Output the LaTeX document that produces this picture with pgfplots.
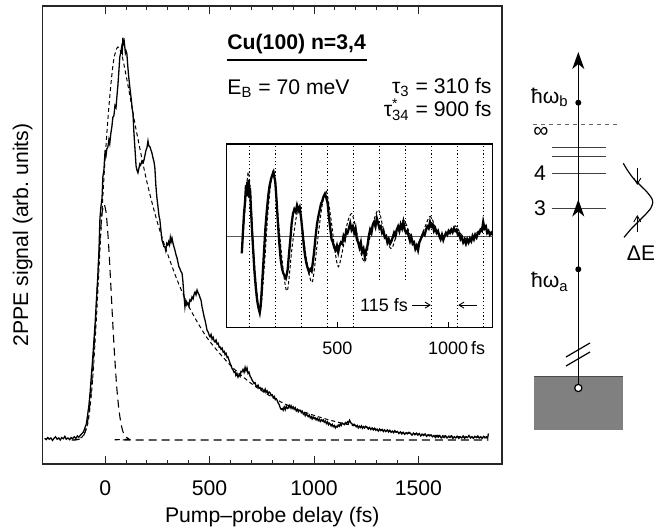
\documentclass[border=0pt]{standalone}
\usepackage{fontspec}
\setmainfont{Liberation Sans}
\usepackage{pgfplots}
\usepackage{pgfplotstable}
\pgfplotsset{compat=1.18}
\usetikzlibrary{arrows.meta}
\tikzset{dotl/.style={black, line width=0.4pt, dash pattern=on 0.6pt off 1.2pt}}
\newcommand\sub[1]{\textsubscript{#1}}
\newcommand\tf{\fontsize{10.6}{12}\selectfont}
\newcommand\insetfont{\fontsize{9}{10}\selectfont}

\pgfplotstableread{
t v
-290 0.004
-282 0.001
-275 0.006
-268 0.002
-260 0.005
-252 -0.001
-245 0.004
-238 0.008
-230 0.002
-222 0.005
-215 0.000
-208 0.006
-200 0.003
-193 0.009
-186 0.002
-178 0.005
-170 0.001
-163 0.006
-156 0.003
-148 0.008
-140 0.004
-133 0.010
-126 0.007
-118 0.012
-111 0.016
-104 0.020
-97 0.030
-90 0.040
-84 0.062
-78 0.085
-72 0.118
-66 0.160
-60 0.200
-54 0.245
-48 0.290
-42 0.345
-36 0.400
-30 0.465
-25 0.550
-20 0.580
-15 0.600
-11 0.653
-6 0.670
-1 0.712
4 0.705
8 0.722
13 0.727
18 0.745
22 0.735
27 0.760
32 0.777
37 0.801
42 0.805
47 0.830
52 0.825
56 0.851
61 0.880
65 0.910
70 0.950
75 0.962
79 0.975
82 0.965
85 0.998
88 0.985
91 0.990
94 0.975
97 0.960
100 0.965
104 0.958
108 0.930
112 0.905
118 0.876
125 0.845
130 0.820
133 0.811
138 0.760
143 0.720
148 0.680
152 0.670
157 0.663
162 0.675
166 0.685
170 0.682
176 0.692
182 0.688
186 0.695
190 0.705
195 0.718
200 0.725
205 0.742
209 0.730
214 0.728
219 0.720
224 0.712
229 0.700
234 0.690
238 0.675
243 0.630
248 0.600
253 0.578
258 0.555
262 0.546
267 0.520
272 0.496
277 0.488
281 0.480
286 0.479
290 0.470
295 0.488
300 0.484
304 0.492
308 0.485
312 0.503
316 0.492
320 0.501
325 0.488
330 0.478
334 0.471
339 0.460
344 0.452
348 0.442
353 0.430
358 0.425
363 0.418
368 0.414
372 0.395
377 0.360
382 0.330
386 0.345
391 0.335
396 0.340
401 0.332
406 0.348
411 0.345
416 0.355
421 0.350
426 0.362
430 0.367
435 0.360
440 0.372
445 0.365
450 0.360
455 0.352
459 0.347
464 0.330
469 0.318
474 0.305
478 0.298
483 0.285
488 0.272
493 0.268
498 0.260
502 0.256
507 0.262
512 0.250
517 0.255
522 0.245
526 0.243
531 0.248
536 0.238
541 0.240
546 0.230
550 0.231
555 0.225
560 0.228
565 0.218
570 0.220
574 0.212
579 0.215
584 0.205
588 0.206
593 0.198
598 0.190
603 0.185
607 0.178
612 0.174
617 0.168
622 0.170
626 0.160
631 0.165
636 0.156
641 0.162
646 0.158
650 0.170
655 0.169
660 0.175
665 0.168
670 0.180
674 0.172
679 0.179
684 0.165
689 0.168
694 0.158
698 0.155
703 0.149
708 0.145
713 0.140
718 0.142
722 0.135
727 0.132
732 0.136
737 0.128
742 0.130
746 0.125
751 0.128
756 0.124
761 0.120
766 0.126
770 0.118
775 0.122
780 0.115
785 0.119
790 0.117
795 0.110
800 0.112
805 0.105
810 0.108
815 0.100
819 0.102
823 0.099
828 0.092
833 0.088
838 0.080
843 0.076
848 0.078
852 0.074
857 0.082
862 0.075
867 0.084
872 0.078
876 0.079
881 0.086
886 0.080
890 0.085
895 0.078
900 0.082
905 0.076
910 0.080
915 0.072
920 0.076
925 0.070
930 0.074
934 0.074
939 0.068
944 0.071
949 0.064
954 0.067
958 0.060
963 0.065
967 0.062
972 0.058
977 0.062
982 0.055
987 0.058
991 0.052
996 0.057
1001 0.053
1005 0.055
1010 0.050
1015 0.054
1020 0.048
1025 0.052
1030 0.046
1035 0.050
1040 0.047
1044 0.050
1049 0.044
1054 0.047
1059 0.041
1064 0.045
1069 0.038
1073 0.042
1077 0.040
1082 0.035
1087 0.039
1092 0.033
1097 0.036
1102 0.030
1106 0.034
1111 0.032
1116 0.037
1121 0.034
1126 0.040
1130 0.036
1135 0.042
1140 0.040
1145 0.038
1150 0.043
1155 0.040
1160 0.045
1165 0.042
1170 0.049
1173 0.046
1177 0.042
1182 0.040
1187 0.036
1192 0.039
1197 0.037
1202 0.033
1207 0.036
1212 0.030
1217 0.034
1222 0.031
1227 0.035
1232 0.029
1237 0.033
1242 0.030
1247 0.034
1254 0.032
1260 0.027
1266 0.031
1272 0.026
1278 0.030
1284 0.025
1290 0.029
1296 0.024
1302 0.027
1308 0.022
1314 0.027
1320 0.023
1326 0.026
1332 0.021
1338 0.025
1344 0.021
1351 0.025
1357 0.020
1363 0.024
1369 0.019
1375 0.022
1381 0.018
1387 0.023
1393 0.019
1400 0.021
1406 0.016
1413 0.020
1420 0.015
1427 0.019
1434 0.014
1441 0.018
1448 0.015
1455 0.019
1462 0.016
1469 0.012
1476 0.017
1483 0.013
1490 0.017
1497 0.012
1504 0.016
1511 0.010
1518 0.014
1525 0.011
1532 0.015
1539 0.009
1546 0.013
1553 0.010
1560 0.012
1567 0.008
1574 0.011
1581 0.006
1588 0.010
1595 0.007
1602 0.011
1609 0.005
1616 0.009
1623 0.006
1630 0.010
1637 0.005
1644 0.009
1651 0.006
1658 0.010
1665 0.004
1672 0.008
1679 0.005
1686 0.009
1693 0.004
1700 0.008
1707 0.005
1714 0.010
1721 0.004
1728 0.008
1735 0.006
1742 0.011
1749 0.005
1756 0.008
1763 0.004
1770 0.009
1777 0.006
1784 0.010
1791 0.005
1798 0.008
1805 0.004
1812 0.009
1819 0.006
1826 0.008
1831 0.005
1835 0.016
}\mainsolid

\pgfplotstableread{
t v
-150 0.000
-120 0.004
-100 0.015
-80 0.050
-60 0.150
-40 0.320
-20 0.520
0 0.700
20 0.840
40 0.940
60 0.975
80 0.955
100 0.905
120 0.850
150 0.765
200 0.640
250 0.540
300 0.460
350 0.390
400 0.332
450 0.285
500 0.245
600 0.185
700 0.140
800 0.106
900 0.080
1000 0.061
1100 0.046
1200 0.035
1400 0.020
1600 0.011
1835 0.005
}\mainfit

\pgfplotstableread{
t v
-160 0.000
-145 0.000
-125 0.002
-105 0.010
-95 0.021
-85 0.043
-75 0.079
-65 0.134
-55 0.211
-45 0.304
-35 0.405
-25 0.497
-15 0.562
-5 0.585
5 0.562
15 0.497
25 0.405
35 0.304
45 0.211
55 0.134
65 0.079
75 0.043
85 0.021
95 0.010
115 0.002
135 0.000
1835 0.000
}\xcorr

\pgfplotstableread{
t v
69 -0.27
74 0.05
79 0.35
84 0.55
88 0.80
91 0.62
94 0.85
97 0.70
100 0.88
103 0.60
106 0.75
110 0.45
115 0.10
120 -0.20
126 -0.55
132 -0.80
138 -1.00
144 -1.12
150 -1.20
154 -1.10
158 -0.90
164 -0.55
170 -0.20
176 0.15
182 0.40
188 0.62
194 0.78
200 0.88
206 0.95
212 1.00
216 0.92
220 0.85
226 0.55
232 0.20
238 -0.10
244 -0.35
250 -0.50
256 -0.58
262 -0.62
268 -0.66
272 -0.60
276 -0.52
282 -0.28
288 -0.05
294 0.20
300 0.35
306 0.42
312 0.38
318 0.48
324 0.40
330 0.45
336 0.30
342 0.10
348 -0.12
354 -0.30
360 -0.42
366 -0.50
372 -0.56
378 -0.52
384 -0.55
390 -0.40
396 -0.22
402 0.00
408 0.18
414 0.30
420 0.40
426 0.50
432 0.55
438 0.62
444 0.66
450 0.60
456 0.52
462 0.30
468 0.12
474 -0.05
480 -0.10
486 -0.18
492 -0.22
498 -0.15
504 -0.25
510 -0.15
516 -0.10
522 -0.12
528 0.00
534 -0.05
540 0.08
546 0.05
552 0.12
558 0.20
564 0.10
570 0.15
576 0.05
582 0.12
588 -0.05
594 -0.10
600 -0.18
606 -0.10
612 -0.25
618 -0.20
624 -0.32
630 -0.22
636 -0.15
642 0.00
648 0.10
654 0.05
660 0.18
666 0.22
672 0.15
678 0.28
684 0.20
690 0.12
696 0.15
702 0.05
708 0.08
714 -0.02
720 0.00
726 -0.10
732 -0.05
738 -0.12
744 -0.08
750 -0.02
756 0.05
762 0.00
768 0.10
774 0.15
780 0.08
786 0.18
792 0.12
798 0.22
804 0.10
810 0.05
816 0.08
822 0.00
828 -0.08
834 -0.02
840 -0.12
846 -0.10
852 -0.20
858 -0.15
864 -0.22
870 -0.10
876 -0.05
882 0.00
888 0.05
894 0.02
900 0.10
906 0.15
912 0.12
918 0.22
924 0.15
930 0.18
936 0.08
942 0.12
948 0.05
954 0.08
960 0.00
966 -0.05
972 0.02
978 -0.06
984 0.00
990 0.05
996 0.02
1002 0.08
1008 0.05
1014 0.10
1020 0.06
1026 0.12
1032 0.08
1038 0.10
1044 0.02
1050 0.04
1056 -0.05
1062 -0.02
1068 -0.10
1074 -0.06
1080 -0.12
1086 -0.05
1092 -0.10
1098 -0.04
1104 -0.08
1110 0.00
1116 -0.05
1122 0.02
1128 -0.02
1134 0.05
1140 0.04
1146 0.10
1152 0.08
1158 0.22
1164 0.12
1170 0.15
1176 0.05
1182 0.08
1188 0.02
1194 0.05
1198 0.02
}\insetsolid

\pgfplotstableread{
t v
72 -0.15
85 0.50
98 1.00
110 0.60
125 -0.40
150 -1.20
170 -0.50
190 0.50
212 1.02
235 0.20
258 -0.60
275 -0.85
295 -0.20
315 0.30
330 0.45
350 -0.10
370 -0.55
388 -0.71
410 -0.10
430 0.45
450 0.70
470 0.30
490 -0.25
505 -0.48
525 -0.20
545 0.20
565 0.35
585 0.10
605 -0.25
625 -0.40
645 -0.05
665 0.25
686 0.41
705 0.15
725 -0.10
746 -0.19
770 0.05
799 0.25
825 0.05
845 -0.10
859 -0.17
885 0.05
919 0.31
945 0.10
972 -0.03
1000 0.05
1032 0.16
1060 0.02
1093 -0.06
1125 0.04
1160 0.12
1198 0.02
}\insetfit

\begin{document}
\begin{tikzpicture}
\useasboundingbox (0,0) rectangle (327pt,265pt);
% ---------------- main axis ----------------
\begin{axis}[
  at={(21.25pt,33pt)}, anchor=south west,
  scale only axis, width=229.75pt, height=229pt,
  xmin=-300, xmax=1900, ymin=-0.0596, ymax=1.0769,
  axis line style={line width=0.6pt, black!85},
  xtick={0,500,1000,1500}, minor x tick num=4,
  ytick=\empty,
  tick align=inside,
  major tick length=4pt, minor tick length=2pt,
  every tick/.style={black!85, line width=0.5pt},
  xticklabel style={font=\tf, inner sep=0pt, anchor=north, yshift=-8pt},
  /pgf/number format/assume math mode=true,
  /pgf/number format/1000 sep={},
  xlabel={Pump--probe delay (fs)},
  xlabel style={font=\tf, at={(axis description cs:0.5,0)}, anchor=north, inner sep=0pt, yshift=-21.5pt},
  ylabel={2PPE signal (arb.\ units)},
  ylabel style={font=\tf, at={(axis description cs:-0.021,0.5)}, anchor=south, inner sep=0pt},
  clip=true,
]
\addplot[black, line width=0.55pt, dash pattern=on 4pt off 2.5pt, smooth, tension=0.4] table[x=t,y=v] {\xcorr};
\addplot[black, line width=0.5pt, dash pattern=on 2pt off 1.5pt, smooth] table[x=t,y=v] {\mainfit};
\addplot[black, line width=0.65pt] table[x=t,y=v] {\mainsolid};
\end{axis}

% ---------------- inset ----------------
\begin{axis}[
  at={(113.25pt,101.25pt)}, anchor=south west,
  scale only axis, width=133pt, height=91.75pt,
  xmin=0, xmax=1200, ymin=-1.43, ymax=1.44,
  axis line style={line width=0.7pt, black},
  axis background/.style={fill=white},
  xtick={500,1000}, xticklabels={500,1000\rlap{\,fs}},
  xtick pos=bottom, ytick=\empty,
  tick align=inside, major tick length=2.5pt,
  every tick/.style={black, line width=0.5pt},
  xticklabel style={font=\insetfont, inner sep=0pt, anchor=north, yshift=-7pt},
  clip=true,
]
\draw[black!65, line width=0.55pt] (0,0) -- (1200,0);
\draw[dotl] (103,-1.43) -- (103,1.44);
\draw[dotl] (220,-1.43) -- (220,1.44);
\draw[dotl] (338,-1.43) -- (338,1.44);
\draw[dotl] (455,-1.43) -- (455,1.44);
\draw[dotl] (573,-1.43) -- (573,1.44);
\draw[dotl] (690,-0.69) -- (690,1.44);
\draw[dotl] (808,-0.69) -- (808,1.44);
\draw[dotl] (925,-1.43) -- (925,1.44);
\draw[dotl] (1043,-1.43) -- (1043,1.44);
\draw[dotl] (1160,-1.43) -- (1160,1.44);
\addplot[black, line width=0.5pt, dash pattern=on 1.6pt off 1.1pt, smooth] table[x=t,y=v] {\insetfit};
\addplot[black, line width=1.15pt] table[x=t,y=v] {\insetsolid};
\node[font=\insetfont, anchor=east, inner sep=0pt] at (820,-1.08) {115 fs};
\draw[-{Straight Barb[length=2.5pt,width=3pt]}, line width=0.45pt] (835,-1.08) -- (922,-1.08);
\draw[-{Straight Barb[length=2.5pt,width=3pt]}, line width=0.45pt] (1129,-1.08) -- (1045,-1.08);
\end{axis}

% ---------------- annotations & level diagram (pixel coords) ----------------
\begin{scope}[x=0.5pt,y=-0.5pt,shift={(0pt,265pt)}]
\node[anchor=base west, inner sep=0pt, font=\bfseries\tf] at (227,50) {Cu(100) n=3,4};
\draw[line width=0.55pt] (227,60) -- (367,60);
\node[anchor=base west, inner sep=0pt, font=\tf] at (227,94.3) {E\sub{B} = 70 meV};
\node[anchor=base east, inner sep=0pt, font=\tf] at (492,93.5) {τ\sub{3} = 310 fs};
\node[anchor=base east, inner sep=0pt, font=\tf] at (492,117) {τ\rlap{\raisebox{0.8ex}{\fontsize{7}{7}\selectfont *}}\sub{34} = 900 fs};

% diagram
\fill[black!50] (534.3,376.7) rectangle (622.7,430);
\draw[black!70, line width=0.5pt] (534.3,376.7) -- (622.7,376.7);
\draw[black!60, line width=0.5pt, dash pattern=on 2pt off 2pt] (533,125) -- (617,125);
\foreach \yy in {147.7,156.7,173.3,208.3}{
  \draw[black!75, line width=0.55pt] (551.7,\yy) -- (606,\yy);
}
\draw[black, line width=0.65pt] (578.3,388) -- (578.3,53);
\draw[black, line width=0.65pt, -{Stealth[length=8.5pt,width=6pt,inset=2.5pt]}] (578.3,70) -- (578.3,52);
\draw[black, line width=0.65pt, -{Stealth[length=8.5pt,width=6pt,inset=2.5pt]}] (578.3,218) -- (578.3,199.5);
\fill[black] (578.3,102.7) circle (1.5pt);
\fill[black] (578.3,269.3) circle (1.5pt);
\draw[black, line width=0.6pt] (566,357) -- (590,343);
\draw[black, line width=0.6pt] (566,366) -- (590,352);
\draw[black, line width=0.6pt, fill=white] (578.3,388) circle (1.8pt);
\node[anchor=base east, inner sep=0pt, font=\tf] at (569,103.5) {ħω\sub{b}};
\node[anchor=base east, inner sep=0pt, font=\tf] at (569,288) {ħω\sub{a}};
\node[inner sep=0pt, font=\tf] at (541,132) {∞};
\node[inner sep=0pt, font=\tf] at (540,173) {4};
\node[inner sep=0pt, font=\tf] at (540,208) {3};
\draw[black, line width=0.6pt] plot[smooth] coordinates {(623.3,163.3) (627.3,170) (633.3,178.3) (640,185) (646.7,191.7) (651.7,198.3) (652.7,202.7) (650.7,208.3) (645,215) (638.3,221.7) (631.7,228.3) (626,235) (624,237.3)};
\draw[black, line width=0.45pt, -{Straight Barb[length=3pt,width=3.5pt]}] (637.3,168) -- (637.3,185);
\draw[black, line width=0.45pt, -{Straight Barb[length=3pt,width=3.5pt]}] (637.3,232) -- (637.3,215);
\node[inner sep=0pt, font=\tf] at (641,253) {ΔE};
\end{scope}
\end{tikzpicture}
\end{document}
